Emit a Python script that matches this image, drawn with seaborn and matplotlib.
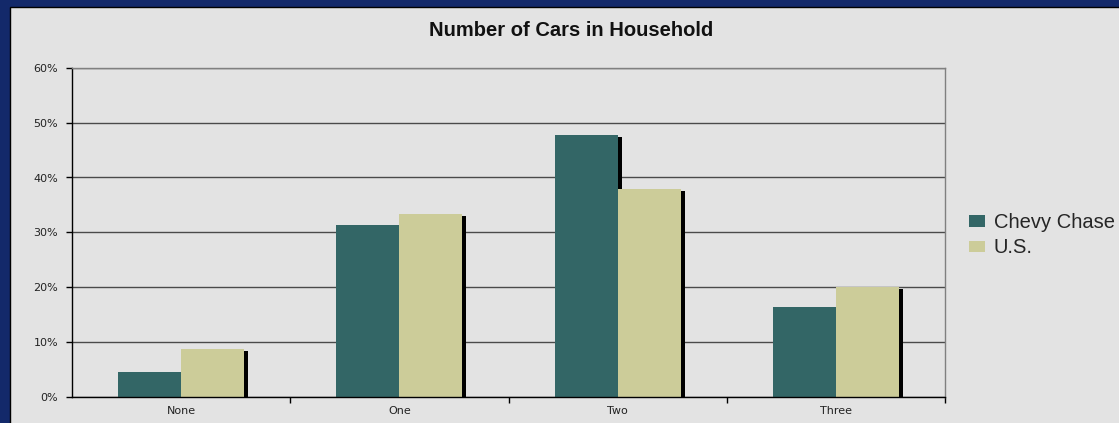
import pandas as pd
import matplotlib
matplotlib.use('Agg')
import matplotlib.pyplot as plt
import matplotlib.patheffects as pe
from matplotlib.patches import Rectangle
from matplotlib.ticker import PercentFormatter, FixedLocator
import seaborn as sns

# values (percent of households)
categories = ['None', 'One', 'Two', 'Three']
chevy_chase = [4.5, 31.3, 47.8, 16.3]
us = [8.6, 33.3, 37.9, 20.0]
series_names = ['Chevy Chase', 'U.S.']
colors = ['#336666', '#cccc99']

df = pd.DataFrame({
    'cars': categories * 2,
    'share': chevy_chase + us,
    'area': [series_names[0]] * 4 + [series_names[1]] * 4,
})

sns.set_style('white')
plt.rcParams['font.family'] = ['DejaVu Sans']

panel = '#e3e3e3'
fig = plt.figure(figsize=(11.19, 4.23), dpi=100, facecolor='#13296a')
# light gray slide panel behind everything
fig.patches.append(Rectangle((10 / 1119, -0.01), 1, 1.01 - 7 / 423, transform=fig.transFigure,
                             facecolor=panel, edgecolor='black', linewidth=1, zorder=-5))

ax = fig.add_axes([72 / 1119, (423 - 396.5) / 423, 873 / 1119, 328.5 / 423])
ax.set_facecolor(panel)

sns.barplot(data=df, x='cars', y='share', hue='area', order=categories,
            hue_order=series_names, palette=colors, saturation=1,
            width=0.577, gap=0, linewidth=0, ax=ax, legend=True)

handles, labels = ax.get_legend_handles_labels()
ax.get_legend().remove()
for h in handles:
    h.set_linewidth(0)
leg = fig.legend(handles, labels, loc='upper left', bbox_to_anchor=(969 / 1119, 1 - 213 / 423),
                 frameon=False, borderpad=0, borderaxespad=0,
                 handlelength=0.8, handleheight=0.5, handletextpad=0.42, labelspacing=0.32,
                 prop={'family': 'Liberation Sans', 'size': 14.5})

# drop shadow on every bar
for p in ax.patches:
    p.set_path_effects([pe.SimplePatchShadow(offset=(2.9, -1.45), shadow_rgbFace='black', alpha=1),
                        pe.Normal()])

ax.set_ylim(0, 60)
ax.set_xlim(-0.5, 3.5)
ax.yaxis.set_major_locator(FixedLocator([0, 10, 20, 30, 40, 50, 60]))
ax.yaxis.set_major_formatter(PercentFormatter(100, decimals=0))
ax.grid(axis='y', color='#4a4a4a', linewidth=1)
ax.set_axisbelow(True)

ax.set_xlabel('')
ax.set_ylabel('')
ax.tick_params(axis='x', which='major', length=0, pad=7, labelsize=8, colors='#222222')
ax.xaxis.set_minor_locator(FixedLocator([0.5, 1.5, 2.5, 3.5]))
ax.tick_params(axis='x', which='minor', length=4, width=1, direction='out', color='black', bottom=True)
ax.tick_params(axis='y', length=4, width=1, direction='out', color='black', left=True,
               labelsize=8, pad=6, labelcolor='#222222')

for s in ['left', 'bottom']:
    ax.spines[s].set_color('black')
    ax.spines[s].set_linewidth(1)
for s in ['top', 'right']:
    ax.spines[s].set_color('#808080')
    ax.spines[s].set_linewidth(1)

fig.text(571 / 1119, 1 - 30 / 423, 'Number of Cars in Household', ha='center', va='center',
         fontsize=14.5, fontweight='bold', family='Liberation Sans', color='#111111')

fig.savefig('out.png', dpi=100, facecolor=fig.get_facecolor())
